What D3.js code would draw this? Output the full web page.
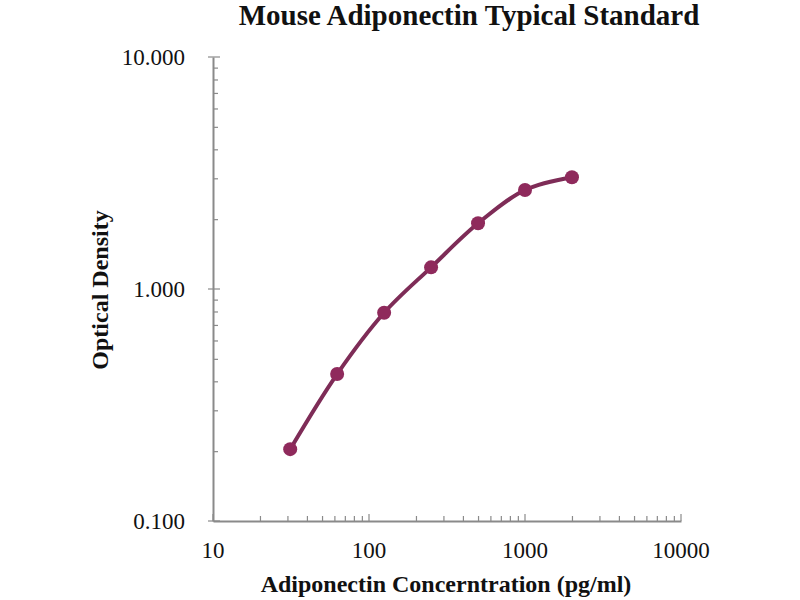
<!DOCTYPE html>
<html>
<head>
<meta charset="utf-8">
<script src="https://cdn.jsdelivr.net/npm/d3@7"></script>
<style>
  body { margin: 0; background: #fff; }
  svg { display: block; }
  text { font-family: "Liberation Serif", "Times New Roman", serif; fill: #111; }
</style>
</head>
<body>
<svg id="chart" width="800" height="600"></svg>
<script>
const titleText = "Mouse Adiponectin Typical Standard";
const xTitle = "Adiponectin Concerntration (pg/ml)";
const yTitle = "Optical Density";
const concentrations = [31.25, 62.5, 125, 250, 500, 1000, 2000];
const opticalDensity = [0.204, 0.43, 0.79, 1.24, 1.92, 2.67, 3.03];
const xTickLabels = [10, 100, 1000, 10000];
const yTickLabels = [0.1, 1, 10];

const svg = d3.select("#chart");
const x = d3.scaleLog().domain([10, 10000]).range([213, 681]);
const y = d3.scaleLog().domain([0.1, 10]).range([521, 57]);

const axisColor = "#8a8a8a";
const lineColor = "#7e2c57";
const dotColor = "#8f2a5c";

// minor ticks
const xMinor = [];
const yMinor = [];
for (let d = 10; d < 10000; d *= 10) for (let k = 2; k <= 9; k++) xMinor.push(d * k);
for (let d = 0.1; d < 9; d *= 10) for (let k = 2; k <= 9; k++) yMinor.push(+(d * k).toFixed(3));

const gx = svg.append("g").attr("transform", `translate(0,${y(0.1)})`)
  .call(d3.axisBottom(x).tickValues(xMinor).tickSize(-5).tickFormat("").tickSizeOuter(0));
const gy = svg.append("g").attr("transform", `translate(${x(10)},0)`)
  .call(d3.axisLeft(y).tickValues(yMinor).tickSize(-5).tickFormat("").tickSizeOuter(0));
[gx, gy].forEach(g => {
  g.select(".domain").attr("stroke", axisColor).attr("stroke-width", 2);
  g.selectAll(".tick line").attr("stroke", axisColor).attr("stroke-width", 1.2);
});

// major ticks
svg.append("g").selectAll("line").data(xTickLabels).join("line")
  .attr("x1", d => x(d)).attr("x2", d => x(d))
  .attr("y1", y(0.1) - 7).attr("y2", y(0.1))
  .attr("stroke", axisColor).attr("stroke-width", 1.2);
svg.append("g").selectAll("line").data(yTickLabels).join("line")
  .attr("x1", x(10) - 5).attr("x2", x(10) + 7)
  .attr("y1", d => y(d)).attr("y2", d => y(d))
  .attr("stroke", axisColor).attr("stroke-width", 1.2);

// tick labels
svg.append("g").selectAll("text").data(xTickLabels).join("text")
  .attr("x", d => x(d)).attr("y", 558)
  .attr("text-anchor", "middle").attr("font-size", 23)
  .text(d => d);
svg.append("g").selectAll("text").data(yTickLabels).join("text")
  .attr("x", 185).attr("y", d => y(d) + 8)
  .attr("text-anchor", "end").attr("font-size", 23)
  .text(d => d3.format(".3f")(d));

// titles
svg.append("text").attr("x", 469).attr("y", 25)
  .attr("text-anchor", "middle").attr("font-size", 29).attr("font-weight", "bold")
  .text(titleText);
svg.append("text").attr("x", 446).attr("y", 592)
  .attr("text-anchor", "middle").attr("font-size", 24).attr("font-weight", "bold")
  .text(xTitle);
svg.append("text").attr("transform", "translate(108,290) rotate(-90)")
  .attr("text-anchor", "middle").attr("font-size", 24).attr("font-weight", "bold")
  .text(yTitle);

// data
const pts = concentrations.map((c, i) => [c, opticalDensity[i]]);
const line = d3.line().x(d => x(d[0])).y(d => y(d[1])).curve(d3.curveCatmullRom.alpha(0.5));
svg.append("path").datum(pts).attr("d", line)
  .attr("fill", "none").attr("stroke", lineColor).attr("stroke-width", 4)
  .attr("stroke-linecap", "round");
svg.append("g").selectAll("circle").data(pts).join("circle")
  .attr("cx", d => x(d[0])).attr("cy", d => y(d[1])).attr("r", 7)
  .attr("fill", dotColor);
</script>
</body>
</html>
